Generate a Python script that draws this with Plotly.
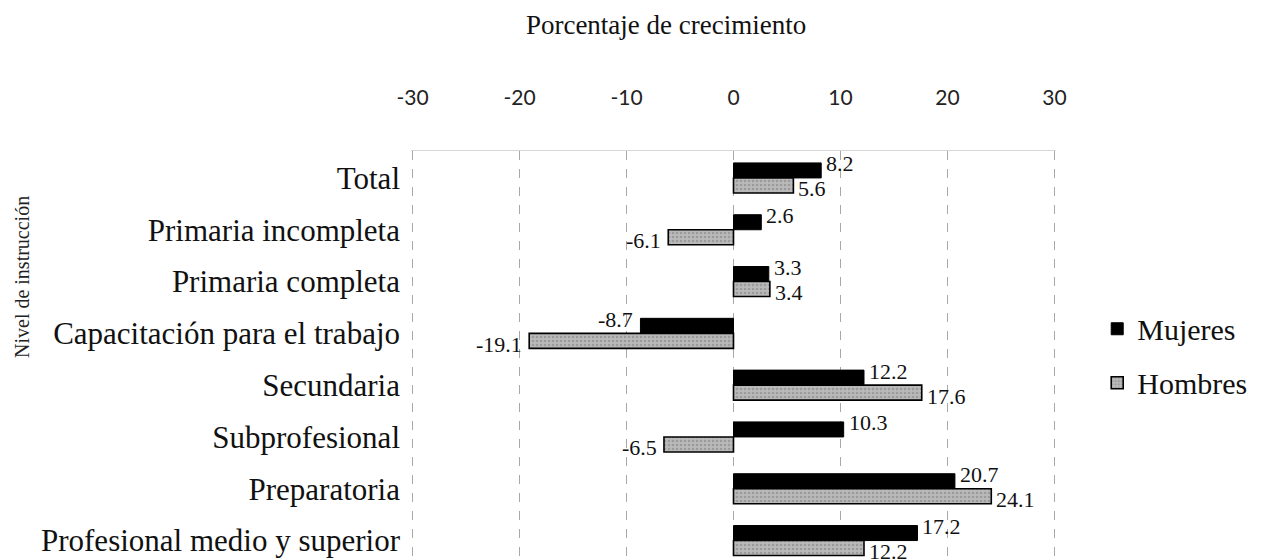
import plotly.graph_objects as go

categories = [
    "Total",
    "Primaria incompleta",
    "Primaria completa",
    "Capacitación para el trabajo",
    "Secundaria",
    "Subprofesional",
    "Preparatoria",
    "Profesional medio y superior",
]
mujeres = [8.2, 2.6, 3.3, -8.7, 12.2, 10.3, 20.7, 17.2]
hombres = [5.6, -6.1, 3.4, -19.1, 17.6, -6.5, 24.1, 12.2]
x_ticks = [-30, -20, -10, 0, 10, 20, 30]

SERIF = "Liberation Serif"
SANS = "Lato"

fig = go.Figure()
fig.add_trace(go.Bar(
    name="Mujeres", y=categories, x=mujeres, orientation="h",
    marker=dict(color="black", line=dict(color="black", width=1)),
    legendgroup="m",
))
fig.add_trace(go.Bar(
    name="Hombres", y=categories, x=hombres, orientation="h",
    marker=dict(color="#b0b0b0", line=dict(color="black", width=1.6),
                pattern=dict(shape=".", fgcolor="#7c7c7c", bgcolor="#bababa",
                             size=4, solidity=0.35)),
    legendgroup="h",
))

annotations = []
for series, shift in ((mujeres, 14), (hombres, -11)):
    for cat, v in zip(categories, series):
        annotations.append(dict(
            x=v, y=cat, xref="x", yref="y", text=f"{v:.1f}", showarrow=False,
            xanchor="left" if v >= 0 else "right",
            xshift=4 if v >= 0 else -6, yshift=shift, borderpad=0,
            font=dict(family=SERIF, size=22, color="#111"),
        ))

annotations.append(dict(
    text="Nivel de instrucción", textangle=-90, showarrow=False,
    xref="paper", yref="paper", x=-0.603, y=0.698,
    xanchor="center", yanchor="middle",
    font=dict(family=SERIF, size=20, color="#222"),
))

fig.update_layout(
    width=1268, height=560,
    margin=dict(l=403, r=220, t=143, b=0, pad=0),
    paper_bgcolor="white", plot_bgcolor="white",
    barmode="group", bargap=0.42, bargroupgap=0,
    title=dict(text="Porcentaje de crecimiento", xref="container", yref="container",
               x=0.519, y=0.971, xanchor="center", yanchor="middle",
               font=dict(family=SERIF, size=27, color="#111"), automargin=False),
    legend=dict(xref="container", yref="container", x=0.859, y=0.379,
                xanchor="left", yanchor="middle", traceorder="grouped",
                tracegroupgap=12, bgcolor="rgba(0,0,0,0)",
                font=dict(family=SERIF, size=30, color="#111")),
    annotations=annotations,
    showlegend=True,
)
fig.update_xaxes(
    side="top", range=[-30.15, 30.15], tickmode="array", tickvals=x_ticks,
    ticktext=[str(t) for t in x_ticks], ticks="", ticklabelstandoff=37,
    tickfont=dict(family=SANS, size=21, color="#222"), automargin=False,
    showgrid=True, gridcolor="#a8a8a8", gridwidth=1, griddash="dash",
    zeroline=False, showline=True, linecolor="#d6d6d6", linewidth=1,
)
fig.update_yaxes(
    type="category", categoryorder="array", categoryarray=categories,
    range=[7.53, -0.52], autorange=False, ticks="", ticklabelstandoff=10,
    tickfont=dict(family=SERIF, size=31, color="#111"), automargin=False,
    showgrid=False, zeroline=False, showline=False,
)

fig.write_html("out.html")
